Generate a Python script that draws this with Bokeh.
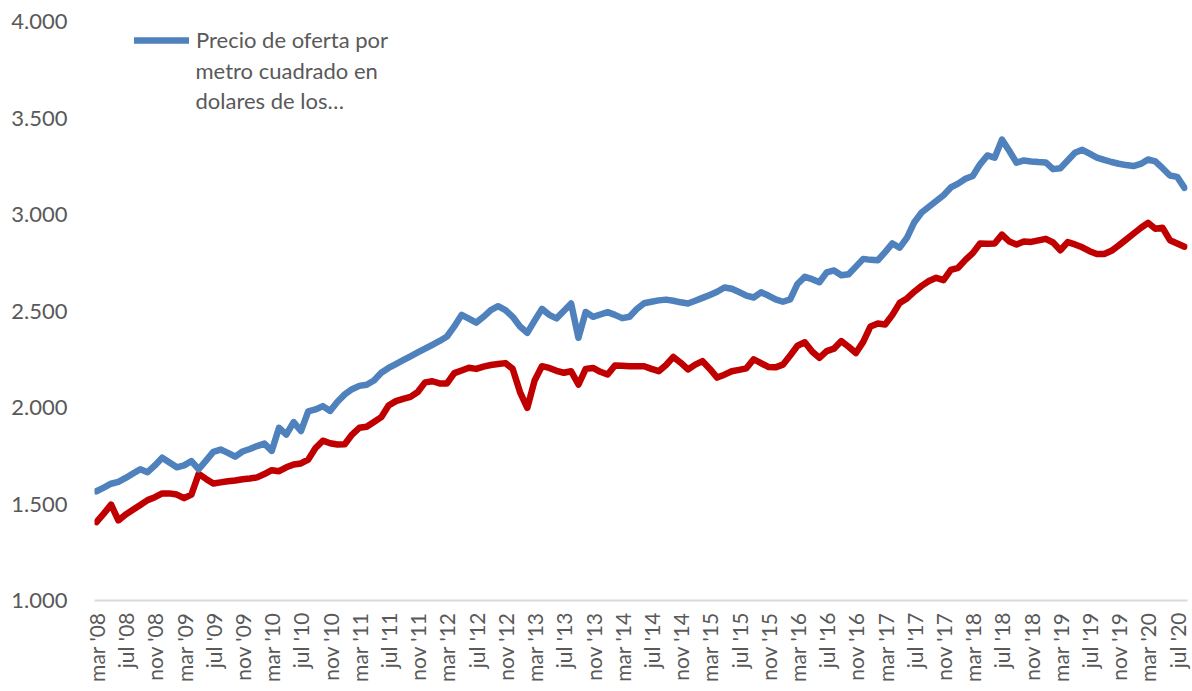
from bokeh.plotting import figure
from bokeh.models import FixedTicker, Range1d, Legend, LegendItem, Label
from bokeh.embed import file_html
from bokeh.resources import INLINE

# Monthly series, mar '08 .. aug '20 (150 months)
blue = [1566, 1585, 1605, 1615, 1635, 1658, 1680, 1665, 1700, 1740,
        1715, 1690, 1700, 1722, 1680, 1725, 1770, 1782, 1765, 1745,
        1772, 1785, 1800, 1813, 1775, 1895, 1860, 1924, 1878, 1980,
        1990, 2007, 1982, 2030, 2068, 2095, 2112, 2118, 2140, 2180,
        2205, 2225, 2245, 2265, 2285, 2305, 2325, 2345, 2368, 2420,
        2480, 2460, 2440, 2470, 2505, 2525, 2505, 2470, 2420, 2387,
        2450, 2511, 2480, 2462, 2500, 2539, 2361, 2495, 2470, 2482,
        2494, 2480, 2463, 2470, 2510, 2540, 2548, 2555, 2559, 2553,
        2545, 2539, 2553, 2568, 2583, 2600, 2622, 2615, 2598, 2580,
        2570, 2597, 2580, 2560, 2548, 2560, 2640, 2677, 2665, 2649,
        2700, 2710, 2685, 2690, 2730, 2770, 2765, 2763, 2805, 2850,
        2828, 2880, 2960, 3010, 3040, 3070, 3100, 3140, 3160, 3185,
        3200, 3260, 3306, 3294, 3388, 3330, 3268, 3280, 3275, 3272,
        3270, 3235, 3240, 3280, 3320, 3335, 3315, 3295, 3283, 3272,
        3263, 3256, 3251, 3262, 3285, 3275, 3240, 3202, 3195, 3138]

red = [1406, 1450, 1497, 1415, 1446, 1470, 1495, 1520, 1535, 1555,
       1555, 1549, 1530, 1549, 1656, 1630, 1606, 1612, 1618, 1622,
       1628, 1632, 1638, 1655, 1675, 1670, 1690, 1705, 1710, 1730,
       1790, 1828, 1815, 1808, 1810, 1860, 1895, 1900, 1925, 1950,
       2010, 2033, 2045, 2055, 2080, 2130, 2136, 2125, 2125, 2178,
       2192, 2206, 2200, 2212, 2220, 2225, 2230, 2200, 2080, 1998,
       2140, 2214, 2205, 2190, 2180, 2188, 2119, 2200, 2205, 2185,
       2171, 2218, 2216, 2214, 2214, 2214, 2200, 2188, 2220, 2262,
       2232, 2197, 2222, 2240, 2200, 2155, 2170, 2188, 2195, 2203,
       2250, 2230, 2210, 2208, 2222, 2270, 2320, 2338, 2290, 2257,
       2292, 2305, 2344, 2315, 2282, 2340, 2420, 2435, 2430, 2480,
       2542, 2565, 2600, 2630, 2655, 2672, 2660, 2713, 2724, 2765,
       2800, 2850, 2848, 2850, 2896, 2860, 2845, 2860, 2858, 2866,
       2874, 2855, 2815, 2857, 2845, 2830, 2810, 2795, 2795, 2812,
       2840, 2870, 2900, 2930, 2957, 2926, 2931, 2867, 2850, 2833]

tick_labels = ["mar '08", "jul '08", "nov '08", "mar '09", "jul '09", "nov '09",
               "mar '10", "jul '10", "nov '10", "mar '11", "jul '11", "nov '11",
               "mar '12", "jul '12", "nov '12", "mar '13", "jul '13", "nov '13",
               "mar '14", "jul '14", "nov '14", "mar '15", "jul '15", "nov '15",
               "mar '16", "jul '16", "nov '16", "mar '17", "jul '17", "nov '17",
               "mar '18", "jul '18", "nov '18", "mar '19", "jul '19", "nov '19",
               "mar '20", "jul '20"]

y_ticks = [1000, 1500, 2000, 2500, 3000, 3500, 4000]
y_tick_labels = ["1.000", "1.500", "2.000", "2.500", "3.000", "3.500", "4.000"]

legend_lines = ["Precio de oferta por", "metro cuadrado en", "dolares de los…"]

x = list(range(len(blue)))
tick_pos = [i * 4 for i in range(len(tick_labels))]

FONT = "Lato"
GREY = "#595959"

p = figure(width=1191, height=689,
           x_range=Range1d(-0.27, 149.41), y_range=Range1d(1000, 4000),
           output_backend="svg", toolbar_location=None,
           min_border_left=94, min_border_right=4,
           min_border_top=21, min_border_bottom=89)

p.outline_line_color = None
p.xgrid.visible = False
p.ygrid.visible = False

r_red = p.line(x, red, line_color="#C00000", line_width=6.5,
               line_join="round", line_cap="round")
r_blue = p.line(x, blue, line_color="#4F81BD", line_width=6.5,
                line_join="round", line_cap="round")

# Y axis
p.yaxis.ticker = FixedTicker(ticks=y_ticks)
p.yaxis.major_label_overrides = {t: l for t, l in zip(y_ticks, y_tick_labels)}
p.yaxis.axis_line_color = None
p.yaxis.major_tick_line_color = None
p.yaxis.minor_tick_line_color = None
p.yaxis.major_label_standoff = 21
p.yaxis.major_label_text_font = FONT
p.yaxis.major_label_text_font_size = "22px"
p.yaxis.major_label_text_color = GREY

# X axis
p.xaxis.ticker = FixedTicker(ticks=tick_pos)
p.xaxis.major_label_overrides = {t: l for t, l in zip(tick_pos, tick_labels)}
p.xaxis.major_label_orientation = 3.14159265 / 2
p.xaxis.axis_line_color = "#D9D9D9"
p.xaxis.axis_line_width = 2
p.xaxis.major_tick_line_color = None
p.xaxis.minor_tick_line_color = None
p.xaxis.major_label_standoff = 6
p.xaxis.major_label_text_font = FONT
p.xaxis.major_label_text_font_size = "21px"
p.xaxis.major_label_text_color = GREY

# Legend (first line with glyph) + continuation lines
legend = Legend(items=[LegendItem(label=legend_lines[0], renderers=[r_blue])],
                location=(40, 547), glyph_width=55, glyph_height=20,
                label_standoff=7, padding=0, margin=0, spacing=0,
                border_line_color=None, background_fill_alpha=0,
                label_text_font=FONT, label_text_font_size="22px",
                label_text_color=GREY, label_height=22)
p.add_layout(legend)

for k, txt in enumerate(legend_lines[1:]):
    p.add_layout(Label(x=101, y=530 - 29.5 * k, x_units="screen", y_units="screen",
                       text=txt, text_font=FONT, text_font_size="22px",
                       text_color=GREY, text_baseline="middle"))

open("out.html", "w").write(file_html(p, INLINE))
